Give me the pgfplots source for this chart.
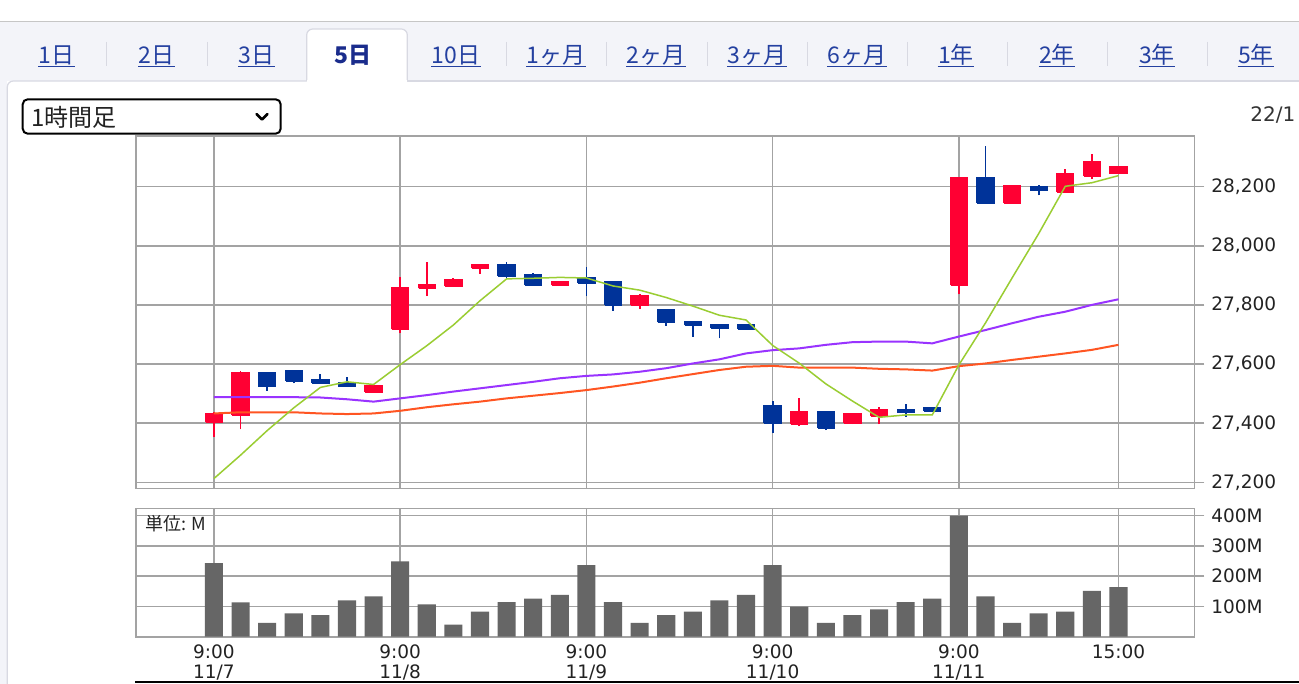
\documentclass[border=0pt]{standalone}
\usepackage{fontspec}
\setmainfont{DejaVu Sans}
\newfontfamily\jp{Noto Sans CJK JP}
\usepackage{pgfplots}
\pgfplotsset{compat=1.18}
\definecolor{gridc}{HTML}{A3A3A3}
\definecolor{candR}{HTML}{FF0033}
\definecolor{candB}{HTML}{003399}
\definecolor{maG}{HTML}{9ACD32}
\definecolor{maP}{HTML}{9933FF}
\definecolor{maO}{HTML}{FF5522}
\definecolor{volc}{HTML}{666666}
\definecolor{linkc}{HTML}{2440A0}
\definecolor{selc}{HTML}{1A2C8C}
\definecolor{tabbg}{HTML}{F3F4F9}
\definecolor{tabline}{HTML}{D8D9E2}
\definecolor{txt}{HTML}{222222}
\newcommand\tfont{\fontsize{9.25pt}{10pt}\selectfont}
% candle: pos, colour, low, body low, body high, high
\newcommand\cdl[6]{%
  \pgfmathsetmacro\xl{#1-0.31}\pgfmathsetmacro\xr{#1+0.31}%
  \addplot[#2, line width=0.9pt] coordinates {(#1,#3)(#1,#6)};
  \addplot[#2, fill=#2, line width=0.9pt, line join=miter] coordinates {(\xl,#4)(\xr,#4)(\xr,#5)(\xl,#5)(\xl,#4)};
}
\begin{document}
\begin{tikzpicture}
\path[use as bounding box] (0,0) rectangle (649.5pt,-342pt);
\clip (0,0) rectangle (649.5pt,-342pt);
\begin{scope}[x=0.5pt,y=-0.5pt]
\fill[white] (0,0) rectangle (1299,684);
\fill[tabbg] (0,22) rectangle (1299,81);
\fill[tabbg] (0,81) rectangle (7.3,684);
\draw[gray!45, line width=0.75pt] (0,21.7) -- (1299,21.7);
\fill[white, rounded corners=3pt] (7.3,700) -- (7.3,81) -- (1310,81) -- (1310,700) -- cycle;
\draw[tabline, line width=0.6pt, rounded corners=3pt] (7.3,700) -- (7.3,81) -- (306.7,81);
\draw[tabline, line width=0.6pt] (407.3,81) -- (1299,81);
\filldraw[fill=white, draw=tabline, line width=0.6pt, rounded corners=3pt] (306.7,81.5) -- (306.7,29) -- (407.3,29) -- (407.3,81.5);
\fill[white] (307.2,80) rectangle (406.8,84);
\foreach \x in {106.7,207.3,506.7,606.7,707,807,907,1007,1107,1207}
  \draw[tabline, line width=0.5pt] (\x,42) -- (\x,66);
\foreach \x/\t in {56.7/1日,156.3/2日,256.3/3日,456/10日,556/1ヶ月,656/2ヶ月,757/3ヶ月,857/6ヶ月,956/1年,1057/2年,1157/3年,1256/5年}{
  \node[anchor=base, inner sep=0, text=linkc, font=\jp\fontsize{11.5pt}{12pt}\selectfont] (t) at (\x,63.5) {\t};
  \draw[linkc, line width=0.5pt] ([yshift=-1.5pt]t.base west) -- ([yshift=-1.5pt]t.base east);
}
\node[anchor=base, inner sep=0, text=selc, font=\jp\bfseries\fontsize{11.5pt}{12pt}\selectfont] at (353,63.5) {5日};
\draw[black, line width=1pt, rounded corners=2.5pt] (22.7,99.3) rectangle (280.7,133.7);
\node[anchor=west, inner sep=0, font=\jp\fontsize{12pt}{13pt}\selectfont, text=txt] at (31,117) {1時間足};
\draw[line width=1.3pt, line cap=round, line join=round] (256.5,114) -- (262,119.5) -- (267.5,114);
\node[anchor=west, inner sep=0, font=\fontsize{10pt}{11pt}\selectfont, text=black!80] at (1250,115) {22/1};
\end{scope}

\begin{axis}[name=price, at={(68pt,-68pt)}, anchor=north west, scale only axis,
  width=529.15pt, height=176.15pt,
  xmin=-2.93, xmax=36.85, ymin=27180, ymax=28371,
  axis line style={gridc, line width=0.8pt},
  grid=major, grid style={gridc, line width=0.8pt},
  xtick={0,7,14,21,28,34}, xticklabels={}, x tick style={draw=none},
  ytick={27200,27400,27600,27800,28000,28200},
  ytick pos=right, yticklabel pos=right, tick align=outside,
  major tick length=5pt, y tick style={gridc, line width=0.8pt},
  scaled y ticks=false,
  /pgf/number format/1000 sep={,}, /pgf/number format/assume math mode=true,
  ticklabel style={font=\tfont, text=txt},
]
\cdl{0}{candR}{27354}{27403}{27431}{27439}
\cdl{1}{candR}{27379}{27428}{27571}{27578}
\cdl{2}{candB}{27510}{27524}{27571}{27571}
\cdl{3}{candB}{27535}{27544}{27578}{27578}
\cdl{4}{candB}{27535}{27535}{27546}{27565}
\cdl{5}{candB}{27524}{27524}{27538}{27557}
\cdl{6}{candR}{27504}{27504}{27527}{27527}
\cdl{7}{candR}{27704}{27717}{27858}{27896}
\cdl{8}{candR}{27830}{27856}{27866}{27946}
\cdl{9}{candR}{27862}{27865}{27884}{27890}
\cdl{10}{candR}{27905}{27924}{27935}{27935}
\cdl{11}{candB}{27890}{27899}{27935}{27946}
\cdl{12}{candB}{27867}{27867}{27902}{27909}
\cdl{13}{candR}{27867}{27867}{27878}{27878}
\cdl{14}{candB}{27830}{27875}{27890}{27929}
\cdl{15}{candB}{27780}{27800}{27879}{27879}
\cdl{16}{candR}{27786}{27798}{27830}{27836}
\cdl{17}{candB}{27729}{27741}{27783}{27783}
\cdl{18}{candB}{27693}{27732}{27741}{27741}
\cdl{19}{candB}{27687}{27723}{27734}{27734}
\cdl{20}{candB}{27719}{27719}{27734}{27734}
\cdl{21}{candB}{27366}{27400}{27458}{27476}
\cdl{22}{candR}{27390}{27397}{27439}{27484}
\cdl{23}{candB}{27377}{27385}{27439}{27439}
\cdl{24}{candR}{27397}{27400}{27431}{27431}
\cdl{25}{candR}{27397}{27425}{27445}{27454}
\cdl{26}{candB}{27422}{27438}{27445}{27465}
\cdl{27}{candB}{27441}{27441}{27452}{27452}
\cdl{28}{candR}{27836}{27867}{28228}{28228}
\cdl{29}{candB}{28144}{28144}{28228}{28338}
\cdl{30}{candR}{28144}{28144}{28203}{28203}
\cdl{31}{candB}{28170}{28189}{28198}{28206}
\cdl{32}{candR}{28181}{28181}{28242}{28260}
\cdl{33}{candR}{28225}{28237}{28285}{28310}
\cdl{34}{candR}{28244}{28244}{28268}{28268}
\addplot[maO, line width=1pt] coordinates {(0,27433)(1,27437)(2,27437)(3,27437)(4,27433)(5,27431)(6,27433)(7,27442)(8,27454)(9,27464)(10,27473)(11,27484)(12,27493)(13,27502)(14,27512)(15,27524)(16,27537)(17,27552)(18,27566)(19,27580)(20,27591)(21,27594)(22,27588)(23,27588)(24,27588)(25,27584)(26,27582)(27,27578)(28,27593)(29,27602)(30,27614)(31,27625)(32,27636)(33,27648)(34,27665)};
\addplot[maP, line width=1pt] coordinates {(0,27488)(1,27488)(2,27488)(3,27488)(4,27487)(5,27481)(6,27473)(7,27484)(8,27495)(9,27507)(10,27518)(11,27529)(12,27540)(13,27552)(14,27560)(15,27565)(16,27574)(17,27586)(18,27602)(19,27616)(20,27636)(21,27647)(22,27653)(23,27665)(24,27674)(25,27676)(26,27676)(27,27670)(28,27693)(29,27715)(30,27738)(31,27760)(32,27777)(33,27800)(34,27819)};
\addplot[maG, line width=0.75pt] coordinates {(0,27213)(1,27292)(2,27375)(3,27452)(4,27521)(5,27540)(6,27531)(7,27598)(8,27662)(9,27732)(10,27814)(11,27888)(12,27890)(13,27893)(14,27891)(15,27864)(16,27850)(17,27825)(18,27796)(19,27765)(20,27749)(21,27663)(22,27603)(23,27533)(24,27475)(25,27420)(26,27428)(27,27428)(28,27597)(29,27739)(30,27891)(31,28041)(32,28201)(33,28213)(34,28237)};
\end{axis}

\begin{axis}[name=vol, at={(68pt,-254.15pt)}, anchor=north west, scale only axis,
  width=529.15pt, height=64.2pt,
  xmin=-2.93, xmax=36.85, ymin=0, ymax=424,
  axis line style={gridc, line width=0.8pt},
  grid=major, grid style={gridc, line width=0.8pt},
  xtick={0,7,14,21,28,34},
  xticklabels={{9:00\\11/7},{9:00\\11/8},{9:00\\11/9},{9:00\\11/10},{9:00\\11/11},{15:00}},
  x tick style={draw=none},
  xticklabel style={align=center, font=\fontsize{9.25pt}{10pt}\selectfont, text=txt, yshift=4.6pt},
  ytick={100,200,300,400}, yticklabels={100M,200M,300M,400M},
  ytick pos=right, yticklabel pos=right, tick align=outside,
  major tick length=5pt, y tick style={gridc, line width=0.8pt},
  yticklabel style={font=\tfont, text=txt},
]
\addplot[ybar, bar width=0.68, fill=volc, draw=none] coordinates {(0,243)(1,113)(2,46)(3,77)(4,71)(5,120)(6,133)(7,249)(8,107)(9,40)(10,83)(11,114)(12,126)(13,138)(14,236)(15,114)(16,46)(17,71)(18,83)(19,120)(20,138)(21,236)(22,99)(23,46)(24,71)(25,90)(26,114)(27,126)(28,400)(29,133)(30,46)(31,77)(32,83)(33,151)(34,164)};
\end{axis}

\begin{scope}[x=0.5pt,y=-0.5pt]
\node[anchor=west, inner sep=0, font=\jp\fontsize{9pt}{10pt}\selectfont, text=txt] at (145,523.5) {単位: M};
\draw[black, line width=1.1pt] (135,681.7) -- (1299,681.7);
\end{scope}
\end{tikzpicture}
\end{document}
